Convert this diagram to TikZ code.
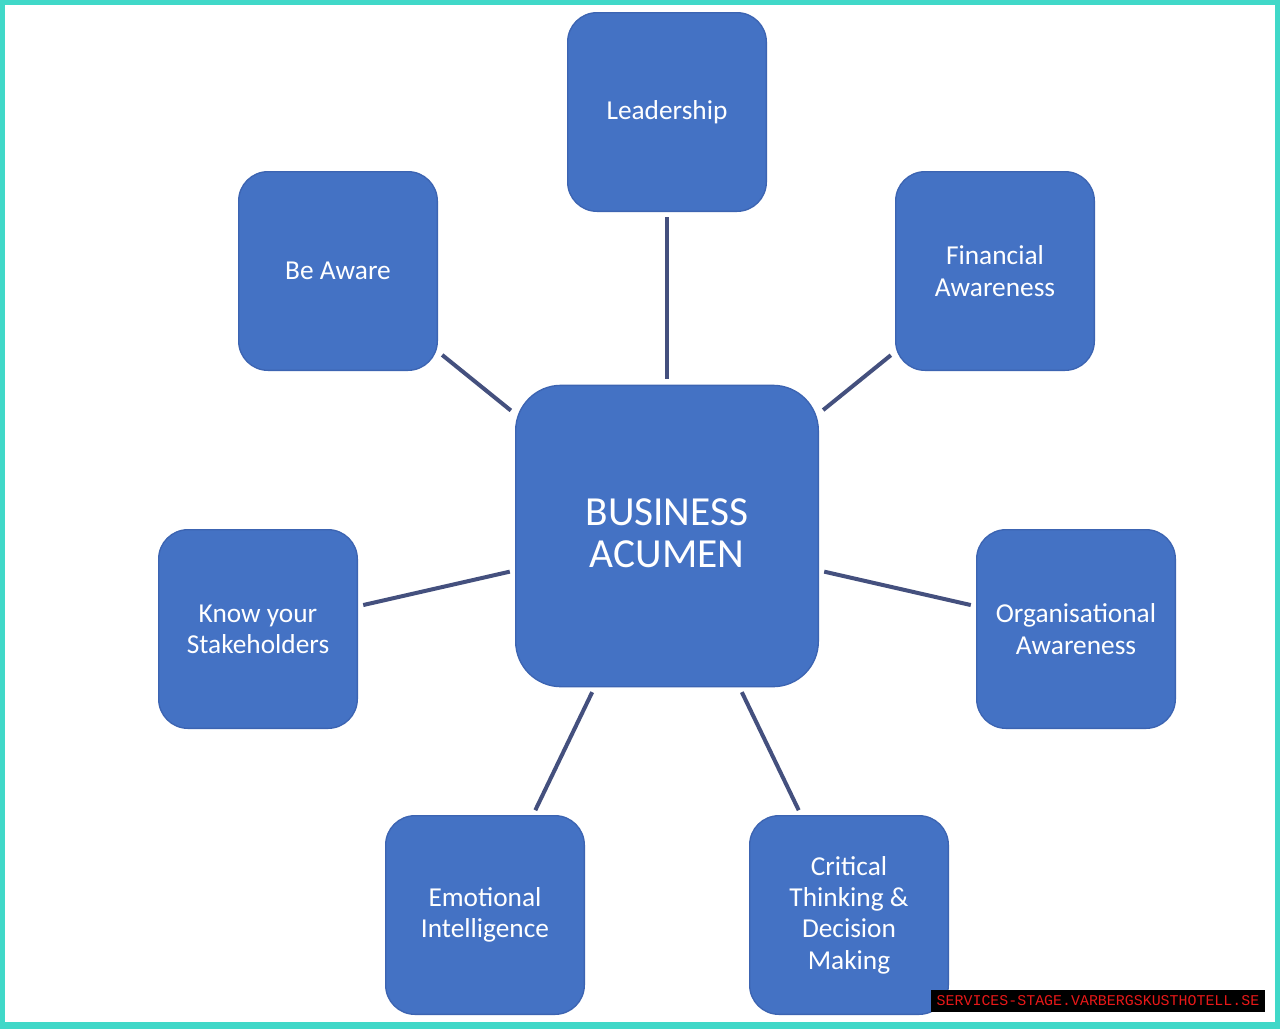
\documentclass[tikz,border=0pt]{standalone}
\usepackage{fontspec}
\setmainfont{Carlito}
\setmonofont{Liberation Mono}
\usepackage{tikz}

\definecolor{boxblue}{RGB}{68,114,196}
\definecolor{boxedge}{RGB}{60,100,178}
\definecolor{linkgray}{RGB}{68,80,126}
\definecolor{frameteal}{RGB}{64,216,200}
\definecolor{markred}{RGB}{232,24,24}

\begin{document}
\begin{tikzpicture}[
    x = 0.75pt, y = -0.75pt,
    topic/.style = {draw=boxedge, fill=boxblue, line width=1pt,
      rounded corners=22pt, minimum width=149pt, minimum height=149pt,
      inner sep=0pt, align=center, text=white,
      font=\fontsize{20.5}{23.5}\selectfont},
    core/.style = {topic, rounded corners=34pt, minimum width=227pt,
      minimum height=226pt, font=\fontsize{31}{32}\selectfont},
    link/.style = {line width=3pt, draw=linkgray,
      shorten <=4pt, shorten >=4pt}
    ]
    \fill[frameteal] (0,0) rectangle (1280,1029);
    \fill[white] (5,5) rectangle (1275,1022);
    \node[core] (acumen) at (667,536) {BUSINESS\\ACUMEN\rule[-4.5pt]{0pt}{0pt}};
    \node[topic] (lead) at (667,112) {Leadership};
    \node[topic] (aware) at (338,271) {Be Aware};
    \node[topic] (finance) at (995,271) {Financial\\Awareness};
    \node[topic] (stake) at (258,629) {Know your\\Stakeholders};
    \node[topic] (orga) at (1076,629) {Organisational\\Awareness};
    \node[topic] (emotion) at (485,915) {Emotional\\Intelligence};
    \node[topic] (critical) at (849,915) {Critical\\Thinking \&\\Decision\\Making};
    \draw[link] (lead) -- (acumen);
    \draw[link] (aware) -- (acumen);
    \draw[link] (finance) -- (acumen);
    \draw[link] (stake) -- (acumen);
    \draw[link] (orga) -- (acumen);
    \draw[link] (emotion) -- (acumen);
    \draw[link] (critical) -- (acumen);
    \node[fill=black, text=markred, inner sep=0pt, minimum width=250pt,
      minimum height=16pt, font=\ttfamily\fontsize{11.2}{12}\selectfont]
      (mark) at (1098,1001) {SERVICES-STAGE.VARBERGSKUSTHOTELL.SE};
\end{tikzpicture}
\end{document}
